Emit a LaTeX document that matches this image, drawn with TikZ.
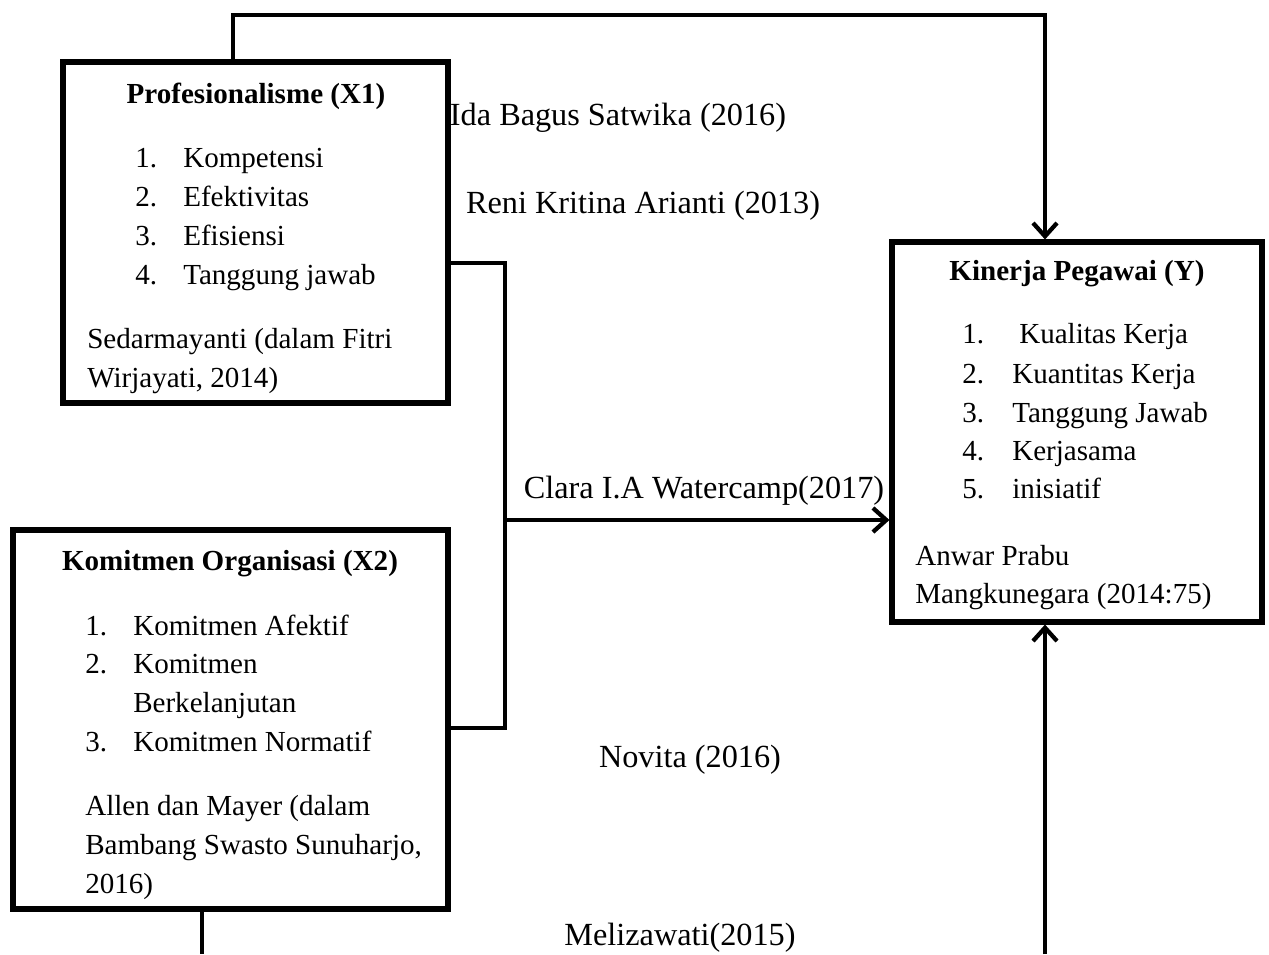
\documentclass[tikz,border=0pt]{standalone}
\usepackage{fontspec}
\setmainfont{Liberation Serif}
\usetikzlibrary{arrows.meta}
\tikzset{>={Straight Barb[length=10pt,width=18pt,line width=3.2pt]}}
\tikzset{
  varbox/.style={draw, line width=3.8pt, minimum width=#1, inner sep=0pt},
  txt/.style={anchor=base west, inner sep=0pt, font=\fontsize{21.8}{26}\selectfont},
  ttl/.style={anchor=base, inner sep=0pt, font=\fontsize{21.8}{26}\selectfont\bfseries},
  lbl/.style={anchor=base, inner sep=0pt, font=\fontsize{24.2}{29}\selectfont},
  conn/.style={line width=3.5pt}
}

\begin{document}
\begin{tikzpicture}[x=0.75pt,y=-0.75pt]
        \useasboundingbox (0,0) rectangle (1269,954);

        % Boxes
        \node[varbox=288.75pt, minimum height=255.75pt] (x1) at (255.5,232.5) {};
        \node[varbox=326.25pt, minimum height=284.25pt] (x2) at (230.5,719.5) {};
        \node[varbox=277.5pt, minimum height=285pt] (y) at (1077,432) {};

        % Profesionalisme
        \node[ttl] (x1t) at (256,103) {Profesionalisme (X1)};
        \node[txt] (x1n1) at (135,167) {1.};
        \node[txt] (x1i1) at (183,167) {Kompetensi};
        \node[txt] (x1n2) at (135,206) {2.};
        \node[txt] (x1i2) at (183,206) {Efektivitas};
        \node[txt] (x1n3) at (135,245) {3.};
        \node[txt] (x1i3) at (183,245) {Efisiensi};
        \node[txt] (x1n4) at (135,284) {4.};
        \node[txt] (x1i4) at (183,284) {Tanggung jawab};
        \node[txt] (x1s1) at (87,348) {Sedarmayanti (dalam Fitri};
        \node[txt] (x1s2) at (87,387) {Wirjayati, 2014)};

        % Komitmen Organisasi
        \node[ttl] (x2t) at (230,570) {Komitmen Organisasi (X2)};
        \node[txt] (x2n1) at (85,635) {1.};
        \node[txt] (x2i1) at (133,635) {Komitmen Afektif};
        \node[txt] (x2n2) at (85,673) {2.};
        \node[txt] (x2i2) at (133,673) {Komitmen};
        \node[txt] (x2i2b) at (133,712) {Berkelanjutan};
        \node[txt] (x2n3) at (85,751) {3.};
        \node[txt] (x2i3) at (133,751) {Komitmen Normatif};
        \node[txt] (x2s1) at (85,815) {Allen dan Mayer (dalam};
        \node[txt] (x2s2) at (85,854) {Bambang Swasto Sunuharjo,};
        \node[txt] (x2s3) at (85,893) {2016)};

        % Kinerja Pegawai
        \node[ttl] (yt) at (1077,280) {Kinerja Pegawai (Y)};
        \node[txt] (yn1) at (962,343) {1.};
        \node[txt] (yi1) at (1019,343) {Kualitas Kerja};
        \node[txt] (yn2) at (962,383) {2.};
        \node[txt] (yi2) at (1012,383) {Kuantitas Kerja};
        \node[txt] (yn3) at (962,422) {3.};
        \node[txt] (yi3) at (1012,422) {Tanggung Jawab};
        \node[txt] (yn4) at (962,460) {4.};
        \node[txt] (yi4) at (1012,460) {Kerjasama};
        \node[txt] (yn5) at (962,498) {5.};
        \node[txt] (yi5) at (1012,498) {inisiatif};
        \node[txt] (ys1) at (915,565) {Anwar Prabu};
        \node[txt] (ys2) at (915,603) {Mangkunegara (2014:75)};

        % Connectors
        \coordinate (t1) at (233,15);
        \coordinate (t2) at (1045,15);
        \draw[conn,->] (x1.north -| t1) -- (t1) -- (t2) -- (y.north -| t2);

        \coordinate (j1) at (505,263);
        \coordinate (j2) at (505,728);
        \coordinate (j3) at (505,520);
        \draw[conn] (x1.east |- j1) -- (j1) -- (j2) -- (x2.east |- j2);
        \draw[conn,->] (j3) -- (y.west |- j3);

        \coordinate (b1) at (202,954);
        \coordinate (b2) at (1045,954);
        \draw[conn] (x2.south -| b1) -- (b1);
        \draw[conn,->] (b2) -- (y.south -| b2);

        % Labels
        \node[lbl] (l1) at (618,125) {Ida Bagus Satwika (2016)};
        \node[lbl] (l2) at (643,213) {Reni Kritina Arianti (2013)};
        \node[lbl] (l3) at (704,498) {Clara I.A Watercamp(2017)};
        \node[lbl] (l4) at (690,767) {Novita (2016)};
        \node[lbl] (l5) at (680,945) {Melizawati(2015)};
\end{tikzpicture}
\end{document}
